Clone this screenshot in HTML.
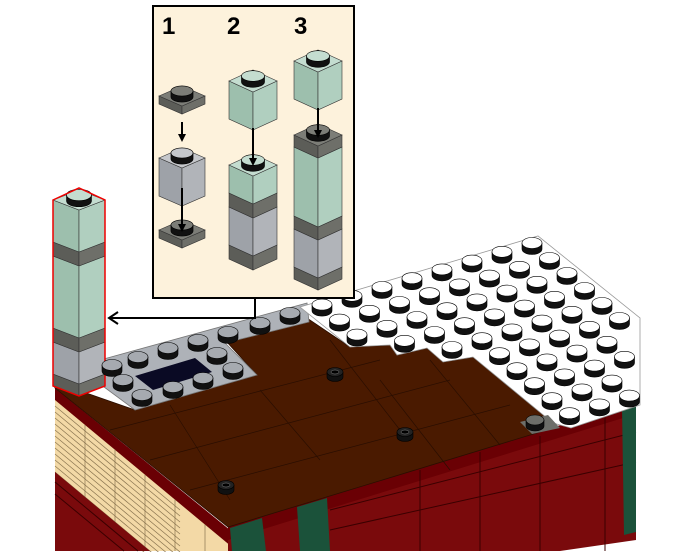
<!DOCTYPE html>
<html><head><meta charset="utf-8"><style>
html,body{margin:0;padding:0;background:#fff;width:686px;height:552px;overflow:hidden}
svg{display:block;position:absolute;left:0;top:0}
.n{font-family:"Liberation Sans",sans-serif;font-weight:bold;font-size:24px;fill:#000}
</style></head><body>
<svg id="s" width="686" height="552" viewBox="0 0 686 552" xmlns="http://www.w3.org/2000/svg">
<defs>
<marker id="ah" markerWidth="8" markerHeight="8" refX="6" refY="4" orient="auto" markerUnits="userSpaceOnUse"><path d="M0,0 L8,4 L0,8 z" fill="#000"/></marker>
<clipPath id="cp"><rect x="0" y="0" width="686" height="552"/></clipPath>
</defs>
<g clip-path="url(#cp)">
<g id="model">
<polygon points="55,388 230,530 230,548 55,402" fill="#6a0004"/>
<polygon points="55,400 232,547 232,551 150,551 55,472" fill="#f3d9a6"/>
<g id="tanlines" stroke="#8a7550" stroke-width="0.7"></g>
<polygon points="55,472 150,551 55,551" fill="#7a0a0c"/>
<line x1="55" y1="482" x2="138" y2="551" stroke="#3a0000"/>
<line x1="55" y1="494" x2="124" y2="551" stroke="#3a0000"/>
<polygon points="228,527 636,402 636,540 560,551 228,551" fill="#7a0a0c"/>
<polygon points="228,527 636,402 636,414 228,540" fill="#6a0004"/>
<line x1="330" y1="510" x2="636" y2="432" stroke="#3a0000" stroke-width="1"/>
<line x1="330" y1="530" x2="636" y2="462" stroke="#3a0000" stroke-width="1"/>
<line x1="420" y1="470" x2="420" y2="551" stroke="#3a0000"/>
<line x1="480" y1="452" x2="480" y2="551" stroke="#3a0000"/>
<line x1="540" y1="436" x2="540" y2="551" stroke="#3a0000"/>
<line x1="605" y1="418" x2="605" y2="551" stroke="#3a0000"/>
<polygon points="230,528 262,518 266,551 232,551" fill="#1b523a"/>
<polygon points="297,507 327,498 330,551 300,551" fill="#1b523a"/>
<polygon points="622,406 636,402 636,532 624,535" fill="#1b523a"/>
<polygon points="55,388 72,388 135,410 257,375 225,340 307,318 350,347 390,345 397,355 427,348 443,362 473,357 553,423 540,432 228,527" fill="#4a1a00" stroke="#2a0e00" stroke-width="0.8"/>
<g stroke="#2a0e00" stroke-width="0.7" fill="none">
<line x1="110" y1="430" x2="380" y2="360"/><line x1="150" y1="460" x2="450" y2="380"/>
<line x1="190" y1="490" x2="510" y2="405"/><line x1="170" y1="405" x2="230" y2="500"/>
<line x1="260" y1="390" x2="320" y2="460"/><line x1="330" y1="340" x2="400" y2="430"/>
<line x1="380" y1="380" x2="450" y2="470"/><line x1="430" y1="360" x2="500" y2="445"/>
</g>
<polygon points="100,384 100,360 307,303 309,322 225,343 257,375 135,410" fill="#aeb2b8" stroke="#777" stroke-width="0.8"/>
<polygon points="135,376 195,358 212,372 153,390" fill="#0a0a24"/>
<polygon points="300,307 538,236 640,318 640,405 571,428 553,423 473,357 443,362 427,348 397,355 390,345 350,347" fill="#fff" stroke="#999" stroke-width="0.8"/>
<polygon points="520,422 548,415 560,428 532,434" fill="#6d6e69"/>
</g>
<g id="studs"></g>
</g>
<rect x="153" y="6" width="201" height="292" fill="#fdf2dc" stroke="#000" stroke-width="2"/>
<text class="n" x="162" y="34">1</text>
<text class="n" x="227" y="34">2</text>
<text class="n" x="294" y="34">3</text>
<g id="cols"></g>
<g stroke="#000" stroke-width="2" fill="none">
<line x1="182" y1="122" x2="182" y2="140" marker-end="url(#ah)"/>
<line x1="182" y1="188" x2="182" y2="230" marker-end="url(#ah)"/>
<line x1="253" y1="128" x2="253" y2="164" marker-end="url(#ah)"/>
<line x1="318" y1="108" x2="318" y2="136" marker-end="url(#ah)"/>
<polyline points="255,298 255,318 110,318"/>
<polyline points="118,312 109,318 118,324"/>
</g>
</svg>
<script>
var NS="http://www.w3.org/2000/svg";
function el(p,t,a){var e=document.createElementNS(NS,t);for(var k in a)e.setAttribute(k,a[k]);p.appendChild(e);return e;}
var C={g:["#9dbfad","#b0cfbf","#c4ddd0"],y:["#9ea2a8","#b1b4b9","#c5c7cb"],d:["#5c5d58","#6e6f69","#7c7d77"]};
var cols=document.getElementById("cols");
function stud(p,x,y,top,rx,ry,h){
 h=h||ry*1.1;
 el(p,"path",{d:"M"+(x-rx)+","+y+" v"+h+" a"+rx+","+ry+" 0 0 0 "+(2*rx)+",0 v"+(-h),fill:"#111",stroke:"#000","stroke-width":0.6});
 el(p,"ellipse",{cx:x,cy:y,rx:rx,ry:ry,fill:top,stroke:"#000","stroke-width":0.6});
}
function column(p,cx,hw,d,segs){
 for(var i=segs.length-1;i>=0;i--){var s=segs[i],c=C[s[2]],a=s[0],b=s[1];
  el(p,"polygon",{points:(cx-hw)+","+(a+d/2)+" "+cx+","+(a+d)+" "+cx+","+(b+d)+" "+(cx-hw)+","+(b+d/2),fill:c[0],stroke:"#333","stroke-width":0.6});
  el(p,"polygon",{points:(cx+hw)+","+(a+d/2)+" "+cx+","+(a+d)+" "+cx+","+(b+d)+" "+(cx+hw)+","+(b+d/2),fill:c[1],stroke:"#333","stroke-width":0.6});
 }
 var s=segs[0],c=C[s[2]],a=s[0];
 el(p,"polygon",{points:(cx-hw)+","+(a+d/2)+" "+cx+","+a+" "+(cx+hw)+","+(a+d/2)+" "+cx+","+(a+d),fill:c[2],stroke:"#333","stroke-width":0.6});
 stud(p,cx,a+d/2-5,c[2],hw*0.48,hw*0.22,6);
}
column(cols,182,23,20,[[86,94,"d"]]);
column(cols,182,23,20,[[148,186,"y"]]);
column(cols,182,23,20,[[220,228,"d"]]);
column(cols,253,24,22,[[70,108,"g"]]);
column(cols,253,24,22,[[154,182,"g"],[182,196,"d"],[196,234,"y"],[234,248,"d"]]);
column(cols,318,24,22,[[50,88,"g"]]);
column(cols,318,24,22,[[124,136,"d"],[136,205,"g"],[205,218,"d"],[218,256,"y"],[256,268,"d"]]);
var m=document.getElementById("model");
var lc=el(m,"g",{});
column(lc,79,26,20,[[190,232,"g"],[232,246,"d"],[246,318,"g"],[318,332,"d"],[332,364,"y"],[364,376,"d"]]);
el(lc,"polygon",{points:"53,200 79,188 105,200 105,386 79,396 53,386",fill:"none",stroke:"#e00","stroke-width":1.5});
var tl=document.getElementById("tanlines");
for(var i=1;i<14;i++){var y=400+i*6;el(tl,"line",{x1:55,y1:y,x2:180,y2:y+104});}
for(var x=85;x<230;x+=30){el(tl,"line",{x1:x,y1:400+(x-55)*0.83,x2:x,y2:551});}
var st=document.getElementById("studs");
function inPoly(x,y,P){var c=false;for(var i=0,j=P.length-1;i<P.length;j=i++){var xi=P[i][0],yi=P[i][1],xj=P[j][0],yj=P[j][1];if(((yi>y)!=(yj>y))&&(x<(xj-xi)*(y-yi)/(yj-yi)+xi))c=!c;}return c;}
var W=[[300,307],[538,236],[640,318],[640,405],[571,428],[553,423],[473,357],[443,362],[427,348],[397,355],[390,345],[350,347]];
var pts=[];
for(var v=0;v<12;v++)for(var u=0;u<14;u++){var x=532+u*17.5-v*30,y=243+u*15+v*8.8;if(x<636&&inPoly(x,y+4,W)&&inPoly(x-9,y,W)&&inPoly(x+9,y,W))pts.push([x,y]);}
pts.sort(function(a,b){return a[1]-b[1]});
pts.forEach(function(p){stud(st,p[0],p[1],"#fff",10,5.5,6);});
var gp=[[290,313],[260,323],[228,332],[198,340],[168,348],[138,357],[112,365],[217,353],[123,380],[233,368],[203,378],[173,387],[142,395]];
gp.sort(function(a,b){return a[1]-b[1]});
gp.forEach(function(p){stud(st,p[0],p[1],"#a6aab0",10,5.5,6);});
stud(st,535,420,"#6d6e69",9,5,6);
[[335,372],[405,432],[226,485]].forEach(function(p){stud(st,p[0],p[1],"#222",8,4.5,5);el(st,"ellipse",{cx:p[0],cy:p[1],rx:4,ry:2,fill:"#000",stroke:"#888","stroke-width":0.5});});
</script>
</body></html>
